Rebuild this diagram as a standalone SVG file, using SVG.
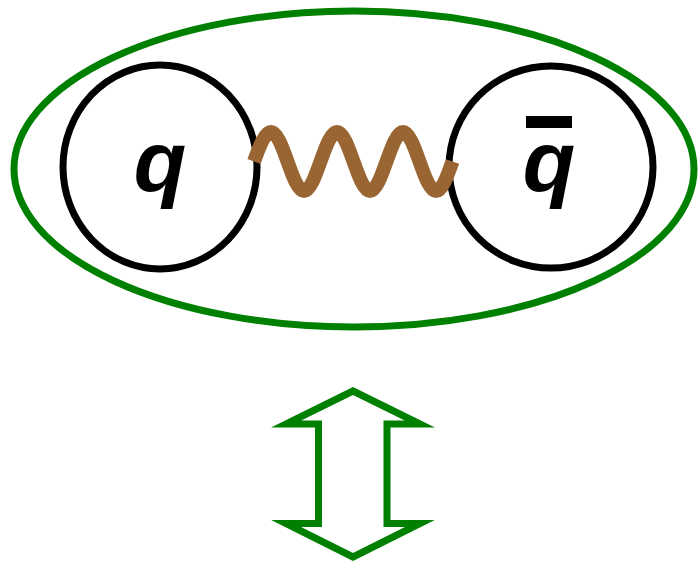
<svg xmlns="http://www.w3.org/2000/svg" width="698" height="564" viewBox="0 0 698 564">
<style>
.particle{fill:none;stroke:#000;stroke-width:7}
.lbl{font-family:"Liberation Sans",Arial,sans-serif;font-weight:bold;font-style:italic;font-size:86px;fill:#000;text-anchor:middle}
</style>
<rect width="698" height="564" fill="#fff"/>
<g id="meson">
<ellipse cx="354" cy="169" rx="340" ry="158" fill="none" stroke="#008000" stroke-width="7"/>
</g>
<g id="quark">
<ellipse class="particle" cx="160" cy="167" rx="97" ry="102"/>
<text class="lbl" x="160" y="191">q</text>
</g>
<g id="antiquark">
<ellipse class="particle" cx="551" cy="167" rx="102" ry="101"/>
<text class="lbl" x="549" y="191">q</text>
<rect x="526" y="116" width="46" height="12" fill="#000"/>
</g>
<g id="connectors">
<path d="M254,161.5 C259.5,146.4 264.8,132 271,132 C283,132 292,191 304,191 C316,191 325,132 337,132 C349,132 358,191 370,191 C382,191 391,132 403,132 C415,132 424,191 436,191 C442,191 447.1,176.6 452.5,161.5" fill="none" stroke="#996633" stroke-width="14"/>
</g>
<g id="equivalence">
<polygon points="353,391 420,424 387,424 387,523.5 420,523.5 353,557 286,523.5 318.5,523.5 318.5,424 286,424" fill="#fff" stroke="#008000" stroke-width="7" stroke-miterlimit="10"/>
</g>
</svg>
